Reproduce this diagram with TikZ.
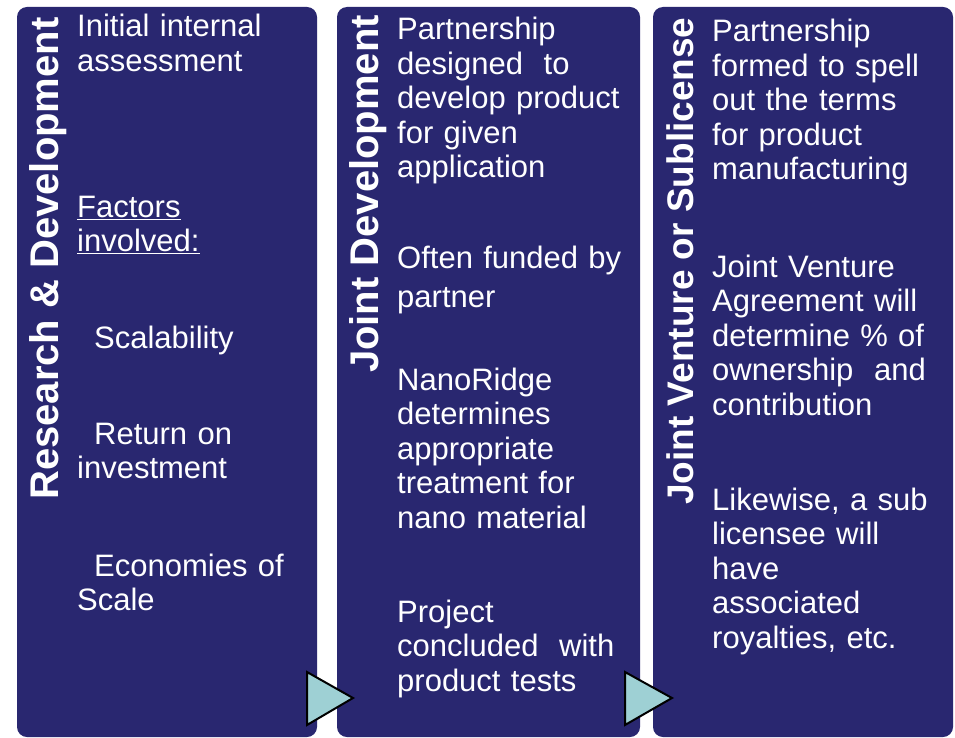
\documentclass[tikz,border=0pt]{standalone}
\usepackage{fontspec}
\setmainfont{Liberation Sans}
\definecolor{navy}{RGB}{41,39,112}
\definecolor{aqua}{RGB}{158,208,212}

\begin{document}
\begin{tikzpicture}[x=1pt,y=-1pt,
  panel/.style={fill=navy,rounded corners=10pt},
  tri/.style={fill=aqua,draw=black,line width=2pt,line join=miter},
  body/.style={anchor=base west,inner sep=0pt,text=white,text width=260pt,align=left,
    font=\fontsize{31}{34.5}\selectfont},
  title/.style={anchor=base west,inner sep=0pt,text=white,rotate=90,
    font=\fontsize{40}{44}\selectfont\bfseries}]
\useasboundingbox (0,0) rectangle (955,738);
\fill[white] (0,0) rectangle (955,738);

\fill[panel] (17,7) rectangle (317,737);
\fill[panel] (337,7) rectangle (640,737);
\fill[panel] (653,7) rectangle (953,737);

\node[title] (rd) at (58,500) {Research \& Development};
\node[title] (jd) at (378,373) {Joint Development};
\node[title,font=\fontsize{37}{41}\selectfont\bfseries] (jv) at (693,505) {Joint Venture or Sublicense};

\node[body] (rd1) at (77,37) {Initial internal\\assessment};
\node[body] (rd2) at (77,217) {\underline{Factors}\\\underline{involved:}};
\node[body] (rd3) at (77,348) {\hspace*{17pt}Scalability};
\node[body] (rd4) at (77,444) {\hspace*{17pt}Return on\\investment};
\node[body] (rd5) at (77,576) {\hspace*{17pt}Economies of\\Scale};

\node[body] (jd1) at (397,40) {Partnership\\designed\ \ to\\develop product\\for given\\application};
\node[body] (jd2) at (397,268) {Often funded by\\[4.5pt]partner};
\node[body] (jd3) at (397,390) {NanoRidge\\determines\\appropriate\\treatment for\\nano material};
\node[body] (jd4) at (397,622) {Project\\concluded\ \ with\\product tests};

\node[body] (jv1) at (712,42) {Partnership\\formed to spell\\out the terms\\for product\\manufacturing};
\node[body] (jv2) at (712,277) {Joint Venture\\Agreement will\\determine \% of\\ownership\ \ and\\contribution};
\node[body] (jv3) at (712,510) {Likewise, a sub\\licensee will\\have\\associated\\royalties, etc.};

\draw[tri] (307,672) -- (353,698) -- (307,725) -- cycle;
\draw[tri] (625,672) -- (672,698) -- (625,725) -- cycle;
\end{tikzpicture}
\end{document}
